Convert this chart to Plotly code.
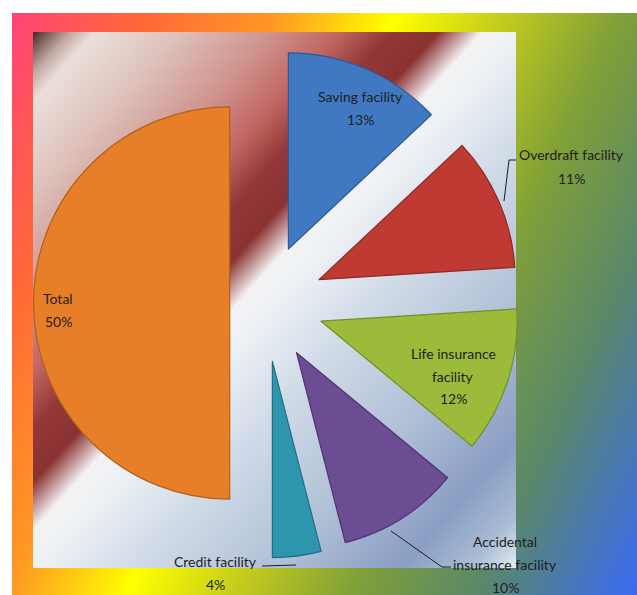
import base64
import plotly.graph_objects as go

# ---- data -------------------------------------------------------------
categories = ["Saving facility", "Overdraft facility", "Life insurance facility",
              "Accidental insurance facility", "Credit facility", "Total"]
shares = [13, 11, 12, 10, 4, 50]

# ---- styling ----------------------------------------------------------
slice_colors = ["#4079c2", "#bf3a32", "#9cbb3b", "#6c4c92", "#2e95ae", "#e67f27"]
edge_colors = ["#2c5a96", "#8e2822", "#74902a", "#4e3470", "#1f6f82", "#b2601c"]
explode = [0.3, 0.3, 0.3, 0.3, 0.3, 0.18]

# line breaks used in the data labels
wrapped = {
    "Life insurance facility": ["Life insurance", "facility"],
    "Accidental insurance facility": ["Accidental", "insurance facility"],
}
# label anchor (first line centre) in pixels
label_pos = {
    "Saving facility": (360, 97),
    "Overdraft facility": (571, 155),
    "Life insurance facility": (453, 353),
    "Accidental insurance facility": (505, 541),
    "Credit facility": (215, 561),
    "Total": (58, 298),
}
LINE_STEP = 23

W, H = 637, 595


def fx(px):
    return px / W


def fy(py):
    return 1 - py / H


def svg_uri(svg):
    return "data:image/svg+xml;base64," + base64.b64encode(svg.encode()).decode()


def gradient_svg(w, h, stops, x1, y1, x2, y2, units):
    stop_tags = "".join(
        f"<stop offset='{o}' stop-color='{c}'/>" for o, c in stops
    )
    return (
        f"<svg xmlns='http://www.w3.org/2000/svg' width='{w}' height='{h}' "
        f"viewBox='0 0 {w} {h}' preserveAspectRatio='none'>"
        f"<defs><linearGradient id='g' gradientUnits='{units}' "
        f"x1='{x1}' y1='{y1}' x2='{x2}' y2='{y2}'>{stop_tags}</linearGradient></defs>"
        f"<rect width='{w}' height='{h}' fill='url(#g)'/></svg>"
    )


# outer rainbow frame
outer_stops = [
    (0.0, "#ff4477"), (0.15, "#ff6838"), (0.30, "#ff9a22"), (0.43, "#ffff00"),
    (0.55, "#c4cc1c"), (0.68, "#80a038"), (0.82, "#5a8868"), (1.0, "#3a6af5"),
]
outer_svg = gradient_svg(625, 582, outer_stops, 0, 0, 736, 342, "userSpaceOnUse")

# inner plot area: diagonal brown / red / white / steel blue
inner_stops = [
    (0.0, "#442a24"), (0.04, "#c4aaa4"), (0.065, "#ebdfda"), (0.15, "#dec2bc"),
    (0.25, "#cf928c"), (0.32, "#c06460"), (0.37, "#933838"), (0.42, "#8a3232"),
    (0.465, "#f4f2f2"), (0.50, "#eef2f6"), (0.60, "#d2dce8"), (0.75, "#b0c0d6"),
    (0.88, "#8a9ec4"), (0.95, "#a8bcd4"), (1.0, "#e4ecf2"),
]
inner_svg = gradient_svg(483, 536, inner_stops, 0, 0, 1, 1, "objectBoundingBox")

fig = go.Figure()
fig.add_trace(go.Pie(
    labels=categories,
    values=shares,
    sort=False,
    direction="clockwise",
    rotation=0,
    pull=explode,
    marker=dict(colors=slice_colors, line=dict(color=edge_colors, width=1.2)),
    textinfo="none",
    hoverinfo="label+percent",
    showlegend=False,
    domain=dict(x=[fx(10), fx(520)], y=[fy(558), fy(48)]),
))

# data labels (one annotation per text line)
total = sum(shares)
annotations = []
font = dict(family="Lato, 'Open Sans', sans-serif", size=14, color="#1e1e1e")
for name, value in zip(categories, shares):
    lines = wrapped.get(name, [name]) + [f"{value / total * 100:.0f}%"]
    x0, y0 = label_pos[name]
    for i, line in enumerate(lines):
        annotations.append(dict(
            x=fx(x0), y=fy(y0 + i * LINE_STEP), xref="paper", yref="paper",
            text=line, showarrow=False, xanchor="center", yanchor="middle",
            font=font,
        ))


def leader(points):
    path = "M " + " L ".join(f"{fx(x)},{fy(y)}" for x, y in points)
    return dict(type="path", path=path, xref="paper", yref="paper",
                line=dict(color="#1a1a1a", width=1), layer="above")


shapes = [
    leader([(504, 201), (509, 160), (516, 160)]),
    leader([(391, 531), (442, 567), (451, 567)]),
    leader([(262, 566), (296, 565)]),
]

fig.update_layout(
    width=W, height=H,
    margin=dict(l=0, r=0, t=0, b=0),
    paper_bgcolor="white",
    plot_bgcolor="white",
    annotations=annotations,
    shapes=shapes,
    images=[
        dict(source=svg_uri(outer_svg), xref="paper", yref="paper",
             x=fx(12), y=fy(13), sizex=625 / W, sizey=582 / H,
             xanchor="left", yanchor="top", sizing="stretch", layer="below"),
        dict(source=svg_uri(inner_svg), xref="paper", yref="paper",
             x=fx(33), y=fy(32), sizex=483 / W, sizey=536 / H,
             xanchor="left", yanchor="top", sizing="stretch", layer="below"),
    ],
)

fig.write_html("out.html")
